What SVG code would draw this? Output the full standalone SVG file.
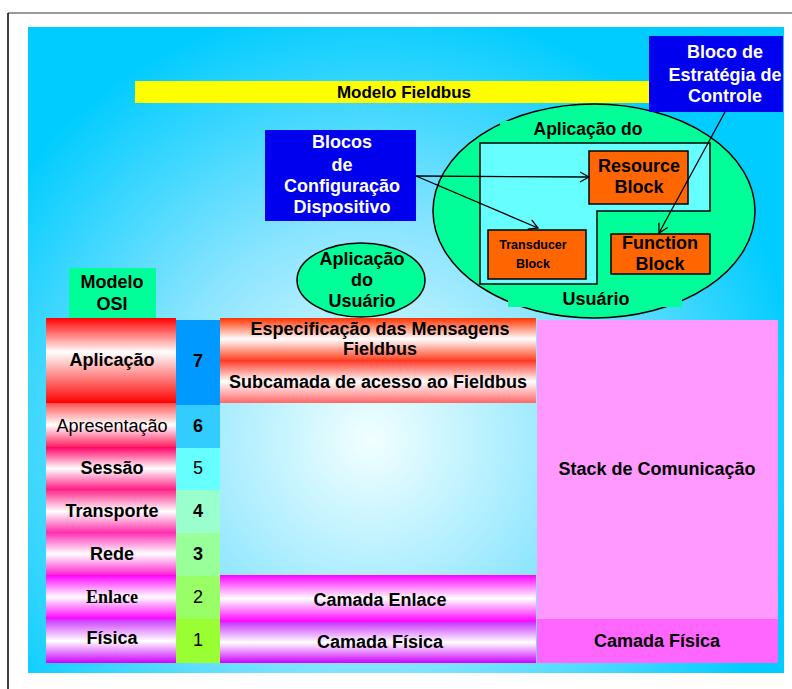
<svg xmlns="http://www.w3.org/2000/svg" width="792" height="689" viewBox="0 0 792 689">
  <defs>
    <radialGradient id="bg" gradientUnits="userSpaceOnUse" cx="370" cy="440" r="440">
      <stop offset="0" stop-color="#F2FFFF"/>
      <stop offset="0.5" stop-color="#88E4FF"/>
      <stop offset="1" stop-color="#00CCFF"/>
    </radialGradient>
    <linearGradient id="gApl" x1="0" y1="0" x2="0" y2="1">
      <stop offset="0" stop-color="#FF0000"/>
      <stop offset="0.4" stop-color="#FFFFFF"/>
      <stop offset="1" stop-color="#FF0000"/>
    </linearGradient>
    <linearGradient id="gApr" x1="0" y1="0" x2="0" y2="1">
      <stop offset="0" stop-color="#FF5050"/>
      <stop offset="0.5" stop-color="#FFFFFF"/>
      <stop offset="1" stop-color="#FF2060"/>
    </linearGradient>
    <linearGradient id="gSes" x1="0" y1="0" x2="0" y2="1">
      <stop offset="0" stop-color="#FF0066"/>
      <stop offset="0.5" stop-color="#FFFFFF"/>
      <stop offset="1" stop-color="#FF1A80"/>
    </linearGradient>
    <linearGradient id="gTra" x1="0" y1="0" x2="0" y2="1">
      <stop offset="0" stop-color="#FF2A8C"/>
      <stop offset="0.5" stop-color="#FFFFFF"/>
      <stop offset="1" stop-color="#FF2AA6"/>
    </linearGradient>
    <linearGradient id="gRed" x1="0" y1="0" x2="0" y2="1">
      <stop offset="0" stop-color="#FF33B8"/>
      <stop offset="0.5" stop-color="#FFFFFF"/>
      <stop offset="1" stop-color="#FF22D0"/>
    </linearGradient>
    <linearGradient id="gEnl" x1="0" y1="0" x2="0" y2="1">
      <stop offset="0" stop-color="#FF00FF"/>
      <stop offset="0.5" stop-color="#FFFFFF"/>
      <stop offset="1" stop-color="#FF00FF"/>
    </linearGradient>
    <linearGradient id="gFis" x1="0" y1="0" x2="0" y2="1">
      <stop offset="0" stop-color="#CC33FF"/>
      <stop offset="0.5" stop-color="#FFFFFF"/>
      <stop offset="1" stop-color="#CC00FF"/>
    </linearGradient>
    <linearGradient id="gEsp" x1="0" y1="0" x2="0" y2="1">
      <stop offset="0" stop-color="#FF3300"/>
      <stop offset="0.5" stop-color="#FFFFFF"/>
      <stop offset="1" stop-color="#FF4422"/>
    </linearGradient>
    <linearGradient id="gSub" x1="0" y1="0" x2="0" y2="1">
      <stop offset="0" stop-color="#FF3322"/>
      <stop offset="0.5" stop-color="#FFFFFF"/>
      <stop offset="1" stop-color="#FF6666"/>
    </linearGradient>
    <marker id="arrow" markerUnits="userSpaceOnUse" markerWidth="12" markerHeight="12" refX="10" refY="5" orient="auto" overflow="visible">
      <path d="M1,0 L10,5 L1,10" fill="none" stroke="#000" stroke-width="1.3"/>
    </marker>
  </defs>
  <style>
    text { font-family: "Liberation Sans", Arial, sans-serif; text-anchor: middle; fill: #000; }
    .b { font-weight: bold; font-size: 18px; }
    .r { font-size: 18px; }
    .w { fill: #FFFFFF; font-weight: bold; font-size: 18px; }
    .serif { font-family: "Liberation Serif", "Times New Roman", serif; font-weight: bold; font-size: 18px; }
    .blue { fill: #0000EE; }
    .green { fill: #00FF99; }
    .orange { fill: #FF6600; stroke: #000; stroke-width: 1.5; }
    .line { stroke: #000; stroke-width: 1.3; fill: none; }
  </style>

  <!-- page frame -->
  <path d="M8,13 H792" stroke="#777" stroke-width="1.5"/>
  <path d="M8,13 V689" stroke="#000" stroke-width="1.5"/>

  <!-- slide background -->
  <rect x="28" y="27" width="756" height="646" fill="url(#bg)"/>

  <g id="titulo-fieldbus">
    <rect x="135" y="81" width="515" height="22" fill="#FFFF00"/>
    <text class="b" x="404" y="98" style="font-size:17px">Modelo Fieldbus</text>
  </g>

  <g id="aplicacao-dispositivo">
    <ellipse cx="594" cy="211" rx="161" ry="107" class="green" stroke="#000" stroke-width="1.5"/>
    <rect x="500" y="121" width="176" height="20" class="green"/>
    <rect x="508" y="288" width="174" height="19" class="green"/>
    <text class="b" x="588" y="135" style="font-size:17.5px">Aplicação do</text>
    <text class="b" x="596" y="305">Usuário</text>
    <polygon points="480,143 710,143 710,211 597,211 597,284 480,284" fill="#66FFFF" stroke="#000" stroke-width="1.5"/>
  </g>

  <g id="resource-block">
    <rect x="589" y="151" width="99" height="53" class="orange"/>
    <text class="b" x="639" y="172">Resource</text>
    <text class="b" x="639" y="193">Block</text>
  </g>

  <g id="transducer-block">
    <rect x="488" y="230" width="98" height="49" class="orange"/>
    <text class="b" x="533" y="249" style="font-size:12.5px">Transducer</text>
    <text class="b" x="533" y="268" style="font-size:12.5px">Block</text>
  </g>

  <g id="function-block">
    <rect x="611" y="234" width="99" height="40" class="orange"/>
    <text class="b" x="660" y="249">Function</text>
    <text class="b" x="660" y="270">Block</text>
  </g>

  <g id="bloco-estrategia">
    <rect x="649" y="36" width="134" height="76" class="blue"/>
    <text class="w" x="725" y="58">Bloco de</text>
    <text class="w" x="725" y="81">Estratégia de</text>
    <text class="w" x="725" y="102">Controle</text>
  </g>

  <g id="blocos-configuracao">
    <rect x="265" y="130" width="151" height="91" class="blue"/>
    <text class="w" x="342" y="148">Blocos</text>
    <text class="w" x="342" y="171">de</text>
    <text class="w" x="342" y="192">Configuração</text>
    <text class="w" x="342" y="213">Dispositivo</text>
  </g>

  <g id="aplicacao-usuario">
    <ellipse cx="361" cy="280" rx="64" ry="37" class="green" stroke="#000" stroke-width="1.5"/>
    <text class="b" x="362" y="265">Aplicação</text>
    <text class="b" x="362" y="286">do</text>
    <text class="b" x="362" y="307">Usuário</text>
  </g>

  <g id="connectors">
    <line class="line" x1="416" y1="176" x2="589" y2="177" marker-end="url(#arrow)"/>
    <line class="line" x1="416" y1="176" x2="538" y2="228" marker-end="url(#arrow)"/>
    <line class="line" x1="725" y1="112" x2="659" y2="233" marker-end="url(#arrow)"/>
  </g>

  <g id="modelo-osi">
    <rect x="69" y="268" width="87" height="52" class="green"/>
    <text class="b" x="112" y="288">Modelo</text>
    <text class="b" x="112" y="310">OSI</text>
  </g>

  <!-- OSI layers -->
  <g id="camada-aplicacao">
    <rect x="46" y="318" width="130" height="85" fill="url(#gApl)"/>
    <text class="b" x="112" y="366">Aplicação</text>
  </g>
  <g id="camada-apresentacao">
    <rect x="46" y="403" width="130" height="44" fill="url(#gApr)"/>
    <text class="r" x="112" y="432">Apresentação</text>
  </g>
  <g id="camada-sessao">
    <rect x="46" y="447" width="130" height="43" fill="url(#gSes)"/>
    <text class="b" x="112" y="474">Sessão</text>
  </g>
  <g id="camada-transporte">
    <rect x="46" y="490" width="130" height="43" fill="url(#gTra)"/>
    <text class="b" x="112" y="517">Transporte</text>
  </g>
  <g id="camada-rede">
    <rect x="46" y="533" width="130" height="42" fill="url(#gRed)"/>
    <text class="b" x="112" y="560">Rede</text>
  </g>
  <g id="camada-enlace">
    <rect x="46" y="575" width="130" height="44" fill="url(#gEnl)"/>
    <text class="serif" x="112" y="603">Enlace</text>
  </g>
  <g id="camada-fisica">
    <rect x="46" y="619" width="130" height="44" fill="url(#gFis)"/>
    <text class="b" x="112" y="644">Física</text>
  </g>

  <!-- layer numbers -->
  <g id="numeros">
    <rect x="176" y="320" width="44" height="85" fill="#0099FF"/>
    <rect x="176" y="405" width="44" height="43" fill="#33CCFF"/>
    <rect x="176" y="448" width="44" height="42" fill="#66FFFF"/>
    <rect x="176" y="490" width="44" height="43" fill="#99FFCC"/>
    <rect x="176" y="533" width="44" height="43" fill="#99FF99"/>
    <rect x="176" y="576" width="44" height="43" fill="#99FF66"/>
    <rect x="176" y="619" width="44" height="44" fill="#99FF33"/>
    <text class="b" x="198" y="367">7</text>
    <text class="b" x="198" y="432">6</text>
    <text class="r" x="198" y="474">5</text>
    <text class="b" x="198" y="517">4</text>
    <text class="b" x="198" y="560">3</text>
    <text class="r" x="198" y="603">2</text>
    <text class="r" x="198" y="646">1</text>
  </g>

  <!-- Fieldbus stack -->
  <g id="especificacao-mensagens">
    <rect x="220" y="318" width="316" height="42" fill="url(#gEsp)"/>
    <text class="b" x="380" y="335">Especificação das Mensagens</text>
    <text class="b" x="380" y="355">Fieldbus</text>
  </g>
  <g id="subcamada-acesso">
    <rect x="220" y="360" width="316" height="43" fill="url(#gSub)"/>
    <text class="b" x="378" y="388">Subcamada de acesso ao Fieldbus</text>
  </g>
  <g id="camada-enlace-fieldbus">
    <rect x="220" y="575" width="316" height="47" fill="url(#gEnl)"/>
    <text class="b" x="380" y="606">Camada Enlace</text>
  </g>
  <g id="camada-fisica-fieldbus">
    <rect x="220" y="622" width="316" height="41" fill="url(#gFis)"/>
    <text class="b" x="380" y="648">Camada Física</text>
  </g>

  <g id="stack-comunicacao">
    <rect x="537" y="320" width="241" height="299" fill="#FF99FF"/>
    <text class="b" x="657" y="475">Stack de Comunicação</text>
  </g>
  <g id="camada-fisica-stack">
    <rect x="537" y="619" width="241" height="44" fill="#FF66FF"/>
    <text class="b" x="657" y="647">Camada Física</text>
  </g>
</svg>
